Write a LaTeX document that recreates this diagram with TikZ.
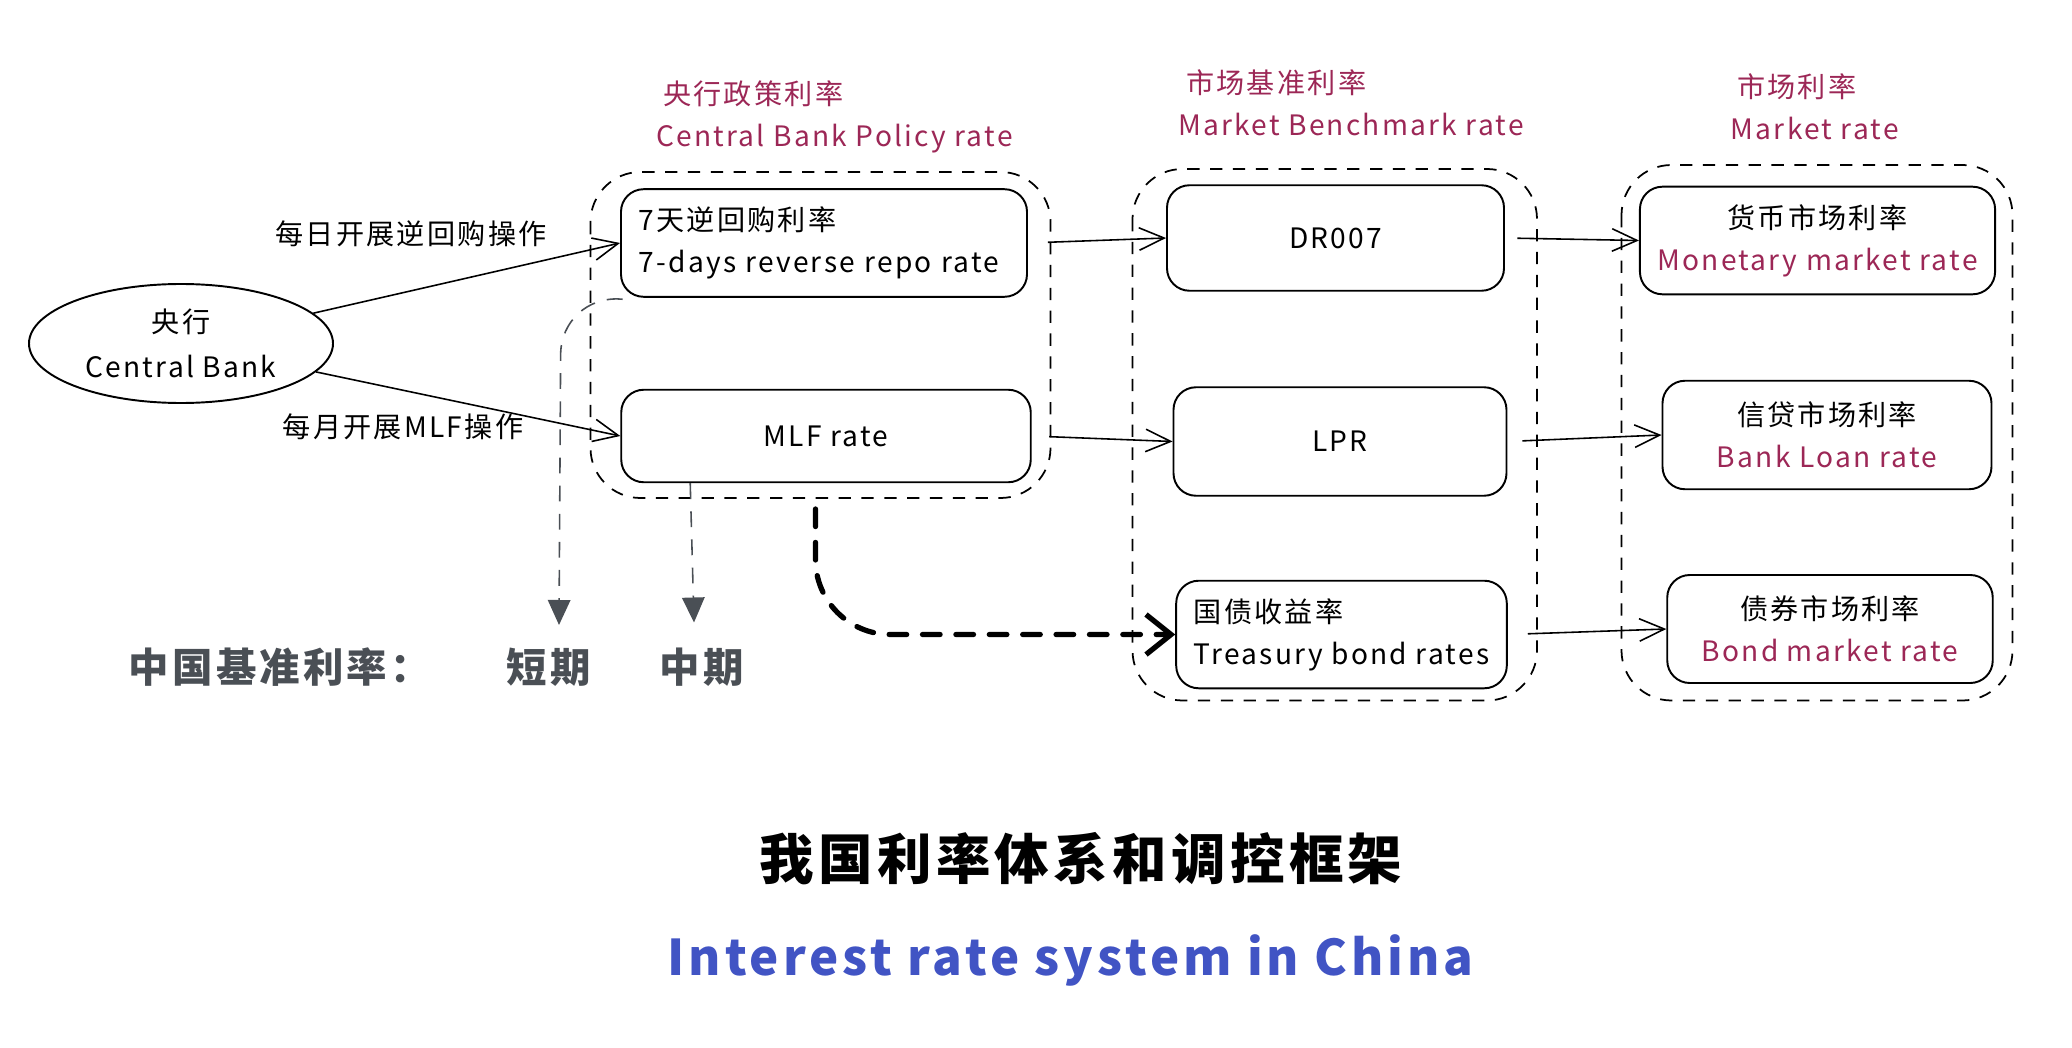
\documentclass[tikz,border=0pt]{standalone}
\usepackage{fontspec}
\setmainfont{Noto Sans CJK SC}[LetterSpace=8]
\usetikzlibrary{shapes.geometric, arrows.meta, calc}
\definecolor{policyred}{RGB}{156,39,86}
\definecolor{slategrey}{RGB}{74,79,85}
\definecolor{titleblue}{RGB}{65,84,196}

\tikzset{
	ratebox/.style={draw, line width=1.1pt, rounded corners=0.45cm, inner sep=0.35cm, font=\fontsize{16}{24}\selectfont},
	groupbox/.style={draw, line width=1pt, dash pattern=on 7pt off 6pt, rounded corners=1cm},
	heading/.style={anchor=west, align=left, text=policyred, font=\fontsize{16}{24}\selectfont},
	oplabel/.style={font=\fontsize{16}{20}\selectfont},
	legend/.style={text=slategrey, font=\bfseries\fontsize{23}{27}\selectfont},
	flow/.style={-{Straight Barb[length=5mm,width=4.5mm]}, line width=0.9pt},
	dropline/.style={-{Triangle[length=5mm,width=4.5mm]}, slategrey, line width=0.9pt, dash pattern=on 9pt off 7pt},
	bigjump/.style={-{Straight Barb[length=5mm,width=8mm]}, line width=3pt, line cap=round, dash pattern=on 10pt off 9pt}
}

\begin{document}
\begin{tikzpicture}
				\useasboundingbox (0,0) rectangle (41.44,-20.96);
				% central bank
				\node[ellipse, draw, line width=1.1pt, minimum width=6.08cm, minimum height=2.38cm, align=center, font=\fontsize{16}{26}\selectfont] (cb) at (3.62,-6.87) {央行\\Central Bank};
				\node[oplabel] (daily) at (8.22,-4.68) {每日开展逆回购操作};
				\node[oplabel] (monthly) at (8.06,-8.54) {每月开展MLF操作};
				% policy rates
				\draw[groupbox] (11.81,-3.44) rectangle (21.01,-9.96);
				\node[heading] (policyhead) at (13.0,-2.33) {\hspace{0.14cm}央行政策利率\\Central Bank Policy rate};
				\node[ratebox, text width=7.42cm, minimum height=1.90cm, align=left] (repo) at (16.48,-4.86) {7天逆回购利率\\7-days reverse repo rate};
				\node[ratebox, minimum width=8.19cm, minimum height=1.85cm] (mlf) at (16.52,-8.72) {MLF rate};
				% market benchmark rates
				\draw[groupbox] (22.65,-3.38) rectangle (30.74,-14.01);
				\node[heading] (benchhead) at (23.44,-2.06) {\hspace{0.16cm}市场基准利率\\Market Benchmark rate};
				\node[ratebox, minimum width=6.74cm, minimum height=2.11cm] (dr) at (26.71,-4.76) {DR007};
				\node[ratebox, minimum width=6.66cm, minimum height=2.17cm] (lpr) at (26.80,-8.83) {LPR};
				\node[ratebox, minimum width=6.61cm, minimum height=2.11cm, align=left] (gov) at (26.83,-12.69) {国债收益率\\Treasury bond rates};
				% market rates
				\draw[groupbox] (32.43,-3.30) rectangle (40.25,-14.01);
				\node[heading] (markethead) at (34.49,-2.14) {\hspace{0.13cm}市场利率\\Market rate};
				\node[ratebox, minimum width=7.01cm, minimum height=2.12cm, align=center] (money) at (36.35,-4.81) {货币市场利率\\\textcolor{policyred}{Monetary market rate}};
				\node[ratebox, minimum width=6.58cm, minimum height=2.17cm, align=center] (loan) at (36.54,-8.70) {信贷市场利率\\\textcolor{policyred}{Bank Loan rate}};
				\node[ratebox, minimum width=6.51cm, minimum height=2.16cm, align=center] (bondmkt) at (36.60,-12.58) {债券市场利率\\\textcolor{policyred}{Bond market rate}};
				% benchmark legend
				\node[legend, anchor=west] (cnbench) at (2.45,-13.35) {中国基准利率：};
				\node[legend] (short) at (10.97,-13.35) {短期};
				\node[legend] (medium) at (14.03,-13.35) {中期};
				\coordinate (shorttip) at (11.18,-12.50);
				\coordinate (mediumtip) at (13.88,-12.45);
				\coordinate (jumpstart) at (16.31,-10.18);
				% connectors
				\draw[flow] (cb) -- (repo.west);
				\draw[flow] (cb) -- (mlf.west);
				\draw[flow, shorten <=0.4cm] (repo.east) -- (dr.west);
				\draw[flow, shorten <=0.35cm] (mlf.east) -- (lpr.west);
				\draw[flow, shorten <=0.25cm] (dr.east) -- (money.west);
				\draw[flow, shorten <=0.3cm] (lpr.east) -- (loan.west);
				\draw[flow, shorten <=0.4cm] (gov.east) -- (bondmkt.west);
				\draw[dropline, rounded corners=1.2cm] ($(repo.south west)+(0.05,-0.03)$) -- (11.22,-5.89) -- (shorttip);
				\draw[dropline] ($(mlf.south west)!0.17!(mlf.south east)$) -- (mediumtip);
				\draw[bigjump, rounded corners=1.5cm] (jumpstart) |- (gov.west);
				% title
				\node[font=\bfseries\fontsize{31}{36}\selectfont] (title) at (21.62,-17.18) {我国利率体系和调控框架};
				\node[text=titleblue, font=\bfseries\fontsize{28}{32}\selectfont] (subtitle) at (21.41,-19.21) {Interest rate system in China};
			\end{tikzpicture}
\end{document}
